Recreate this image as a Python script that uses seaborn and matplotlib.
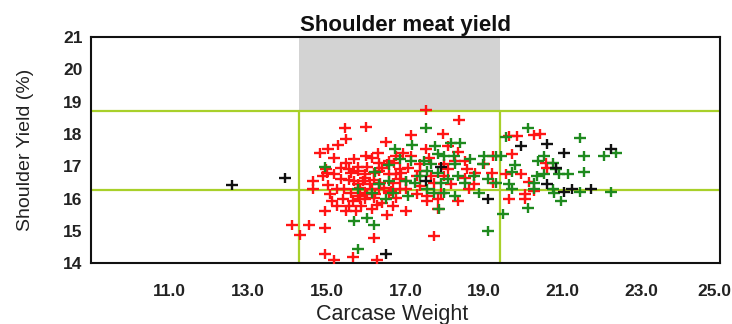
import numpy as np
import pandas as pd
import matplotlib
matplotlib.use("Agg")
import matplotlib.pyplot as plt
import matplotlib.transforms as mtransforms
from matplotlib.path import Path
from matplotlib.markers import MarkerStyle
import seaborn as sns

# ---- data ----
red_x = [17.52, 18.37, 15.47, 15.99, 15.48, 15.28, 15.04, 14.82, 16.50, 17.13,
         17.96, 16.30, 15.99, 15.48, 14.98, 15.79, 16.01, 15.62, 16.94, 17.13,
         16.58, 16.32, 16.19, 15.97, 15.35, 15.57, 14.65, 15.04, 14.65, 15.26,
         15.79, 16.10, 16.36, 16.67, 17.02, 16.89, 18.08, 18.34, 17.60, 17.99,
         18.56, 18.78, 19.20, 19.22, 18.52, 18.25, 17.29, 17.07, 17.64, 17.99,
         15.13, 15.40, 15.66, 15.97, 16.23, 16.58, 16.85, 16.41, 15.88, 15.48,
         14.96, 15.75, 16.14, 16.54, 17.02, 17.55, 17.82, 18.34, 17.55, 17.90,
         18.61, 14.12, 14.54, 14.96, 14.31, 16.19, 17.73, 14.96, 15.18, 15.66,
         16.28, 19.00, 19.22, 16.76, 17.29, 16.32, 15.62, 15.97, 14.91, 16.85,
         17.38, 16.58, 15.26, 17.82, 15.00, 15.79, 15.97, 15.92, 16.32, 16.54,
         16.72, 15.79, 16.01, 16.19, 16.45, 16.63, 15.84,
         15.18, 15.70, 16.14, 16.76, 15.35, 15.57, 16.41, 16.76, 15.18, 15.70,
         16.19, 16.85, 15.44, 16.14, 17.02, 15.09, 15.84, 16.28, 16.67, 15.57,
         17.38, 17.73, 18.17, 18.74, 18.08, 17.51, 18.52, 17.38,
         19.64, 19.83, 20.26, 20.43, 19.72, 19.55, 19.93, 20.15, 20.57, 20.61,
         19.64, 20.04, 20.04, 20.26]
red_y = [18.74, 18.43, 18.18, 18.22, 17.86, 17.65, 17.53, 17.42, 17.75, 17.96,
         18.01, 17.42, 17.32, 17.11, 16.93, 16.99, 16.99, 16.80, 17.42, 17.32,
         17.16, 17.11, 16.80, 16.65, 16.62, 16.58, 16.55, 16.41, 16.29, 16.29,
         16.44, 16.44, 16.49, 16.49, 16.55, 16.80, 17.63, 17.44, 17.27, 17.06,
         16.91, 16.80, 16.80, 16.49, 16.65, 17.16, 16.70, 16.96, 16.70, 16.70,
         15.93, 15.98, 15.93, 15.98, 16.13, 16.18, 16.29, 15.87, 15.77, 15.62,
         15.62, 15.62, 15.67, 15.51, 15.62, 15.93, 15.98, 15.93, 16.08, 16.18,
         16.29, 15.18, 15.18, 15.10, 14.87, 14.78, 14.86, 14.30, 14.12, 14.20,
         14.12, 17.06, 17.32, 16.03, 16.13, 16.29, 16.18, 16.18, 16.70, 16.91,
         16.85, 16.75, 15.77, 15.67, 16.80, 16.85, 16.75, 16.55, 16.85, 17.06,
         17.11, 16.08, 16.13, 16.03, 16.34, 16.24, 16.34,
         17.27, 17.22, 17.27, 17.32, 16.96, 16.91, 16.96, 16.75, 16.75, 16.55,
         16.58, 16.60, 16.29, 16.29, 16.29, 16.13, 15.98, 15.82, 15.77, 15.77,
         16.39, 16.49, 16.44, 16.44, 16.91, 17.53, 17.16, 17.06,
         17.94, 17.94, 17.96, 17.99, 17.37, 16.75, 16.75, 16.52, 17.11, 16.96,
         16.00, 16.13, 16.00, 16.24]

green_x = [17.52, 16.74, 17.17, 17.74, 18.17, 18.39, 18.24, 19.00, 14.96, 16.23,
           16.58, 16.85, 17.15, 17.46, 17.82, 17.99, 18.25, 18.96, 19.09, 19.31,
           17.55, 17.82, 18.08, 18.34, 18.52, 18.87, 17.02, 17.24, 17.55, 17.73,
           17.99, 18.25, 16.50, 16.67, 17.07, 15.79, 15.70, 16.01, 16.19, 17.86,
           19.11, 15.79, 16.32, 18.65, 17.38, 17.90, 17.64, 18.74, 16.58, 16.14,
           20.12, 19.55, 19.30, 19.44, 20.36, 20.53, 20.74, 19.79, 19.72, 19.64,
           19.72, 20.34, 20.53, 20.83, 20.91, 21.14, 20.74, 20.79, 20.26, 20.27,
           21.45, 21.55, 22.05, 22.36, 21.53, 21.45, 22.23, 20.96, 20.12, 19.47]
green_y = [18.18, 17.55, 17.65, 17.63, 17.73, 17.73, 17.32, 17.32, 16.99, 16.82,
           17.03, 17.22, 17.16, 17.16, 17.37, 17.32, 17.06, 17.06, 16.60, 16.49,
           16.85, 16.80, 16.60, 16.70, 16.49, 16.18, 16.55, 16.49, 16.29, 16.18,
           16.18, 16.08, 15.98, 16.18, 16.08, 16.29, 15.31, 15.41, 15.20, 15.67,
           15.00, 14.43, 16.44, 17.22, 16.70, 16.49, 17.06, 16.70, 16.55, 16.18,
           18.17, 17.92, 17.32, 17.32, 17.17, 17.32, 17.11, 17.03, 16.83, 16.44,
           16.31, 16.70, 16.75, 16.91, 16.75, 16.75, 16.29, 16.19, 16.50, 16.31,
           17.89, 17.32, 17.32, 17.42, 16.83, 16.21, 16.21, 15.93, 15.72, 15.52]

black_x = [12.58, 13.94, 17.90, 17.51, 19.11, 16.50,
           19.93, 20.61, 21.04, 22.23, 20.83, 20.61, 21.04, 21.23, 21.72]
black_y = [16.41, 16.64, 16.99, 16.55, 15.98, 14.29,
           17.63, 17.68, 17.42, 17.55, 16.96, 16.44, 16.21, 16.29, 16.31]

weight_lo, weight_hi = 14.3, 19.4
yield_lo, yield_hi = 16.27, 18.7

x_ticks = [11, 13, 15, 17, 19, 21, 23, 25]
y_ticks = [14, 15, 16, 17, 18, 19, 20, 21]

# ---- build frame ----
df = pd.DataFrame({
    "weight": red_x + green_x + black_x,
    "yield": red_y + green_y + black_y,
    "group": ["red"] * len(red_x) + ["green"] * len(green_x) + ["black"] * len(black_x),
})
palette = {"red": "#ff1414", "green": "#1e8a1e", "black": "#111111"}

sns.set_style("white")
plt.rcParams["font.family"] = ["Liberation Sans", "DejaVu Sans"]

fig = plt.figure(figsize=(7.32, 3.24), dpi=100)
ax = fig.add_axes([0.1243, 0.187, 0.8593, 0.699])

ax.set_xlim(9, 25)
ax.set_ylim(14, 21)

frac = (yield_hi - 14) / (21 - 14)
ax.axvspan(weight_lo, weight_hi, ymin=frac, ymax=1, color="#d3d3d3", lw=0, zorder=0)
lc = "#a8d02a"
ax.axhline(yield_hi, color=lc, lw=1.6, zorder=1)
ax.axhline(yield_lo, color=lc, lw=1.6, zorder=1)
ax.axvline(weight_lo, ymin=0, ymax=frac, color=lc, lw=1.6, zorder=1)
ax.axvline(weight_hi, ymin=0, ymax=frac, color=lc, lw=1.6, zorder=1)

# slightly wide "+" (reference is horizontally stretched)
plus = MarkerStyle(Path([(-1.25, 0), (1.25, 0), (0, -1), (0, 1)],
                        [Path.MOVETO, Path.LINETO, Path.MOVETO, Path.LINETO]))

for grp in ["red", "green", "black"]:
    sub = df[df["group"] == grp]
    sns.scatterplot(data=sub, x="weight", y="yield", color=palette[grp],
                    edgecolor=palette[grp], marker=plus, s=66, linewidth=1.7,
                    legend=False, ax=ax, zorder=3)

ax.set_xticks(x_ticks)
ax.set_xticklabels([f"{v:.1f}" for v in x_ticks], fontsize=12.5, fontweight="bold")
ax.set_yticks(y_ticks)
ax.set_yticklabels([str(v) for v in y_ticks], fontsize=12.5, fontweight="bold")
ax.tick_params(axis="x", direction="out", length=7, width=1.5, pad=8, colors="#222222")
ax.tick_params(axis="y", direction="in", length=9, width=1.5, pad=6, colors="#222222")

# keep the last x label inside the canvas
last = ax.get_xticklabels()[-1]
last.set_transform(last.get_transform() +
                   mtransforms.ScaledTranslation(-6 / 100, 0, fig.dpi_scale_trans))

for sp in ax.spines.values():
    sp.set_visible(True)
    sp.set_color("#111111")
    sp.set_linewidth(1.5)

ax.set_xlabel("Carcase Weight", fontsize=15.5, labelpad=0, color="#222222")
ax.xaxis.set_label_coords(0.479, -0.18)
ax.xaxis.label.set_va("top")
ax.set_ylabel("Shoulder Yield (%)", fontsize=14, labelpad=21, color="#222222")
ax.set_title("Shoulder meat yield", fontsize=16, fontweight="bold", pad=4, color="#111111")

fig.savefig("out.png", dpi=100)
